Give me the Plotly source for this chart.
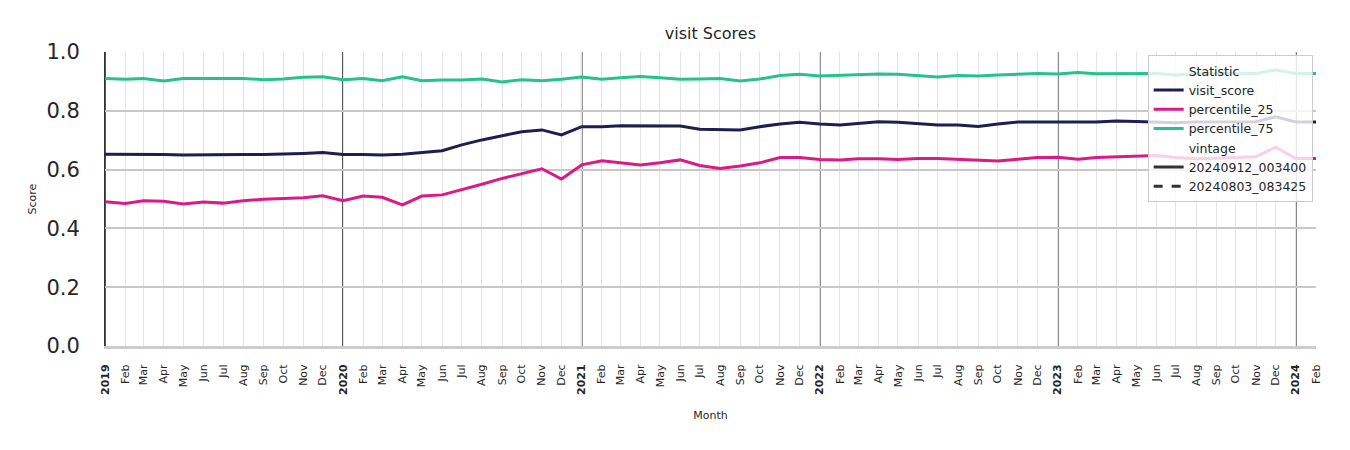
import pandas as pd
import plotly.graph_objects as go

months = pd.date_range("2019-01-01", periods=62, freq="MS")
month_str = [d.strftime("%Y-%m-%d") for d in months]

visit_score = [
    0.652, 0.652, 0.653, 0.651, 0.650, 0.651, 0.652, 0.651, 0.651, 0.652, 0.655, 0.658,
    0.651, 0.651, 0.650, 0.652, 0.658, 0.664, 0.684, 0.701, 0.715, 0.729, 0.735, 0.718,
    0.746, 0.746, 0.749, 0.749, 0.748, 0.748, 0.737, 0.735, 0.735, 0.746, 0.755, 0.761,
    0.755, 0.752, 0.757, 0.763, 0.761, 0.757, 0.752, 0.752, 0.747, 0.755, 0.762, 0.762,
    0.761, 0.762, 0.762, 0.765, 0.764, 0.762, 0.759, 0.762, 0.762, 0.762, 0.763, 0.780,
    0.762, 0.762,
]
percentile_25 = [
    0.491, 0.485, 0.494, 0.492, 0.483, 0.490, 0.486, 0.494, 0.499, 0.502, 0.504, 0.511,
    0.494, 0.510, 0.506, 0.480, 0.510, 0.514, 0.531, 0.550, 0.570, 0.585, 0.603, 0.568,
    0.616, 0.630, 0.623, 0.616, 0.623, 0.633, 0.614, 0.604, 0.612, 0.623, 0.641, 0.641,
    0.634, 0.633, 0.637, 0.637, 0.634, 0.638, 0.638, 0.635, 0.633, 0.629, 0.635, 0.641,
    0.642, 0.635, 0.641, 0.644, 0.645, 0.648, 0.641, 0.637, 0.639, 0.641, 0.644, 0.676,
    0.638, 0.638,
]
percentile_75 = [
    0.910, 0.907, 0.910, 0.901, 0.910, 0.910, 0.908, 0.910, 0.906, 0.908, 0.914, 0.916,
    0.906, 0.910, 0.902, 0.916, 0.902, 0.905, 0.905, 0.908, 0.898, 0.906, 0.902, 0.907,
    0.915, 0.907, 0.912, 0.917, 0.912, 0.907, 0.908, 0.910, 0.901, 0.908, 0.920, 0.924,
    0.918, 0.921, 0.922, 0.925, 0.924, 0.920, 0.915, 0.920, 0.918, 0.922, 0.925, 0.927,
    0.925, 0.930, 0.926, 0.926, 0.926, 0.927, 0.922, 0.926, 0.927, 0.927, 0.927, 0.939,
    0.927, 0.927,
]

series_names = ["visit_score", "percentile_25", "percentile_75"]
series_colors = ["#1e1e50", "#dc1a85", "#25c28f"]
vintages = ["20240912_003400", "20240803_083425"]
vintage_dash = ["solid", "dash"]
y_ticks = [0.0, 0.2, 0.4, 0.6, 0.8, 1.0]

tick_text = [f"<b>{d.year}</b>" if d.month == 1 else d.strftime("%b") for d in months]
years = [s for s, d in zip(month_str, months) if d.month == 1]

TXT = "#262626"
FONT = "DejaVu Sans"

fig = go.Figure()

fig.add_trace(go.Scatter(x=[month_str[0]], y=[None], mode="lines", name="Statistic",
                         line=dict(color="rgba(0,0,0,0)", width=3)))
for name, col, vals in zip(series_names, series_colors,
                           [visit_score, percentile_25, percentile_75]):
    fig.add_trace(go.Scatter(x=month_str, y=vals, mode="lines", name=name,
                             line=dict(color=col, width=3)))
fig.add_trace(go.Scatter(x=[month_str[0]], y=[None], mode="lines", name="vintage",
                         line=dict(color="rgba(0,0,0,0)", width=3)))
for v, dsh in zip(vintages, vintage_dash):
    fig.add_trace(go.Scatter(x=[month_str[0]], y=[None], mode="lines", name=v,
                             line=dict(color="#333333", width=3, dash=dsh)))

for d in years:
    fig.add_shape(type="line", xref="x", yref="paper", x0=d, x1=d, y0=0, y1=1,
                  line=dict(color="#1a1a1a", width=1.5), layer="between")

fig.update_layout(
    width=1350, height=450,
    margin=dict(l=105, r=34, t=52, b=104),
    paper_bgcolor="white", plot_bgcolor="white",
    font=dict(family=FONT, color=TXT),
    title=dict(text="visit Scores", x=0.5262, xanchor="center", y=0.926, yanchor="middle",
               font=dict(size=16, color=TXT)),
    showlegend=True,
    legend=dict(x=0.861, y=0.989, xanchor="left", yanchor="top",
                bgcolor="rgba(255,255,255,0.8)", bordercolor="#cccccc", borderwidth=1,
                font=dict(size=12.5, color=TXT), tracegroupgap=0, itemwidth=30),
)
fig.update_xaxes(
    type="date",
    range=[month_str[0], month_str[-1]],
    tickmode="array", tickvals=month_str, ticktext=tick_text,
    tickangle=-90, tickfont=dict(size=11, color=TXT),
    ticks="", ticklabelstandoff=11,
    showgrid=True, gridcolor="#e3e3e3", gridwidth=1,
    showline=True, linecolor="#cccccc", linewidth=3,
    zeroline=False,
    title=dict(text="Month", font=dict(size=11, color=TXT), standoff=18),
)
fig.update_yaxes(
    range=[0, 1.0], tickmode="array", tickvals=y_ticks,
    ticktext=[f"{t:.1f}" for t in y_ticks],
    tickfont=dict(size=21, color=TXT), ticks="", ticklabelstandoff=20,
    showgrid=True, gridcolor="#c8c8c8", gridwidth=2,
    showline=True, linecolor="#333333", linewidth=1, zeroline=False,
    title=dict(text="Score", font=dict(size=11, color=TXT), standoff=7),
)

fig.write_html("out.html")
